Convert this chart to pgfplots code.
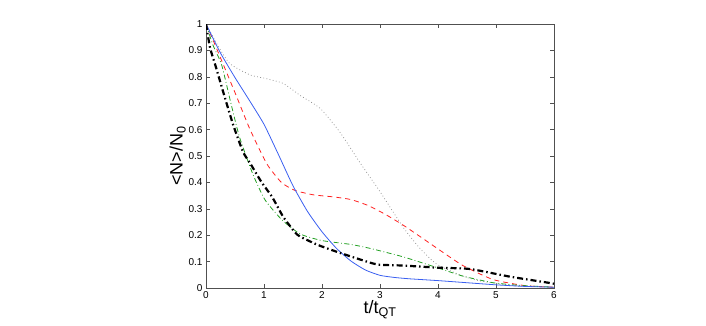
\documentclass[border=0pt]{standalone}
\usepackage{pgfplots}
\pgfplotsset{compat=1.18}
\usepackage{fontspec}
\setmainfont{Liberation Sans}
\definecolor{mblue}{HTML}{3A5FF0}
\definecolor{mred}{HTML}{FF2020}
\definecolor{mgreen}{HTML}{22A022}
\definecolor{mgrey}{HTML}{8A8A8A}
\definecolor{axgrey}{HTML}{505050}

\begin{document}
\begin{tikzpicture}[x=1pt,y=1pt]
  \useasboundingbox (0,0) rectangle (706,325);
  \begin{axis}[
    at={(206pt,37pt)}, anchor=south west,
    scale only axis, width=348pt, height=264pt,
    xmin=0, xmax=6, ymin=0, ymax=1,
    xtick={0,...,6},
    ytick={0,0.1,...,1.0},
    yticklabels={0,0.1,0.2,0.3,0.4,0.5,0.6,0.7,0.8,0.9,1},
    tick align=inside, major tick length=4pt,
    axis line style={axgrey, line width=0.9pt},
    tick style={axgrey, line width=0.6pt},
    tick label style={font=\fontsize{10}{11}\selectfont, text=black},
    /pgf/number format/assume math mode=true,
    xlabel={t/t\textsubscript{QT}},
    ylabel={<N>/N\textsubscript{0}},
    label style={font=\fontsize{18}{20}\selectfont},
    xlabel style={yshift=5pt},
    ylabel style={yshift=-4pt},
    every axis plot/.append style={smooth, tension=0.35},
    clip=true,
  ]
    % grey dotted
    \addplot[mgrey, line width=0.7pt, dash pattern=on 0.8pt off 2.4pt]
      coordinates {(0,1) (0.2,0.92) (0.41,0.85) (0.76,0.807) (1.0,0.795)
        (1.33,0.775) (1.62,0.73) (1.97,0.68) (2.31,0.59) (2.66,0.473)
        (3.0,0.365) (3.4,0.23) (3.69,0.15) (3.98,0.09) (4.43,0.045)
        (4.72,0.027) (5.3,0.009) (6,0.003)};
    % red dashed
    \addplot[mred, line width=0.8pt, dash pattern=on 5pt off 4pt]
      coordinates {(0,1) (0.12,0.94) (0.5,0.74) (0.76,0.60) (1.05,0.47)
        (1.3,0.40) (1.53,0.37) (1.85,0.353) (2.2,0.345) (2.5,0.335)
        (2.8,0.312) (3.1,0.278) (3.4,0.238) (3.69,0.195) (4.0,0.148)
        (4.43,0.085) (4.95,0.032) (5.5,0.009) (6,0.003)};
    % green dash-dot
    \addplot[mgreen, line width=0.8pt, dash pattern=on 5pt off 2.5pt on 0.8pt off 2.5pt]
      coordinates {(0,1) (0.12,0.92) (0.27,0.845) (0.44,0.69) (0.58,0.57)
        (0.81,0.43) (1.02,0.333) (1.31,0.258) (1.62,0.205) (1.95,0.182)
        (2.14,0.175) (2.5,0.165) (2.83,0.15) (3.4,0.118) (4.0,0.076)
        (4.43,0.045) (4.95,0.02) (5.41,0.01) (6,0.003)};
    % blue solid
    \addplot[mblue, line width=0.8pt]
      coordinates {(0,1) (0.25,0.89) (0.5,0.797) (0.75,0.71) (1.0,0.62)
        (1.25,0.505) (1.5,0.387) (1.75,0.29) (2.0,0.213) (2.25,0.15)
        (2.5,0.102) (2.75,0.068) (3.0,0.048) (3.25,0.04) (3.5,0.035)
        (4,0.028) (4.5,0.02) (5,0.012) (5.5,0.006) (6,0.003)};
    % black thick dash-dot
    \addplot[black, line width=2.2pt, dash pattern=on 6pt off 3pt on 1.5pt off 3pt]
      coordinates {(0,1) (0.07,0.91) (0.16,0.845) (0.3,0.74) (0.47,0.617)
        (0.64,0.515) (0.76,0.473) (0.96,0.40) (1.14,0.345) (1.33,0.27)
        (1.53,0.212) (1.62,0.195) (1.93,0.163) (2.31,0.133) (2.83,0.096)
        (3.0,0.088) (3.4,0.085) (4.0,0.077) (4.55,0.072) (5.24,0.043)
        (5.93,0.019) (6,0.016)};
  \end{axis}
\end{tikzpicture}
\end{document}
